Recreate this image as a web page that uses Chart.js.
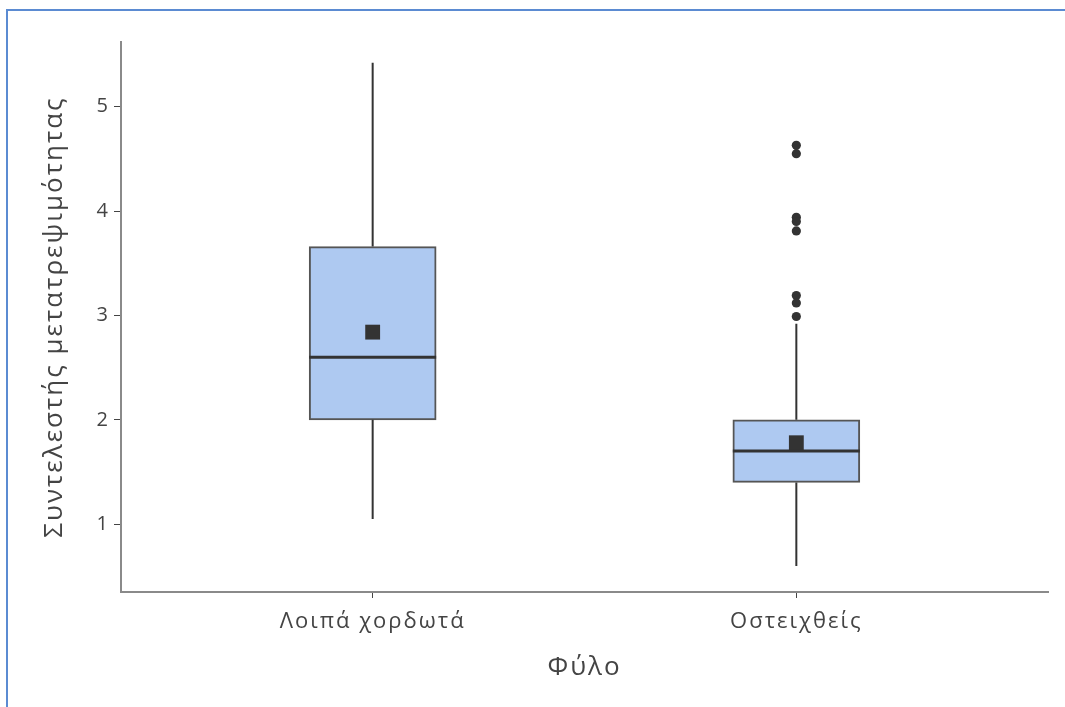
<!DOCTYPE html>
<html>
<head>
<meta charset="utf-8">
<script src="https://cdn.jsdelivr.net/npm/chart.js@4.4.1/dist/chart.umd.min.js"></script>
<style>
  html, body { margin: 0; padding: 0; background: #fff; }
  #wrap { position: relative; width: 1065px; height: 707px; overflow: hidden; }
  #frame { position: absolute; left: 6px; top: 9px; right: 0; bottom: 0;
           border-left: 2px solid #5b8bd2; border-top: 2px solid #5b8bd2; }
  canvas { position: absolute; left: 0; top: 0; }
</style>
</head>
<body>
<div id="wrap">
  <div id="frame"></div>
  <canvas id="box" width="1065" height="707"></canvas>
</div>
<script>
// Κατηγορίες και στατιστικά (διαβασμένα από την εικόνα)
const categories = ['Λοιπά χορδωτά', 'Οστειχθείς'];
const q1 = [2.0, 1.4];
const q3 = [3.66, 2.0];
const medians = [2.6, 1.7];
const means = [2.84, 1.78];
const whiskerLow = [1.05, 0.6];
const whiskerHigh = [5.42, 2.92];
const outliers = [[], [4.63, 4.55, 3.94, 3.9, 3.81, 3.19, 3.12, 2.99]];
const yTicks = [1, 2, 3, 4, 5];

const font = "'Segoe UI', 'Open Sans', 'Noto Sans', sans-serif";

// the original text is widely spaced
const spacing = {
    id: 'spacing',
    beforeDraw(chart) { chart.ctx.letterSpacing = '2px'; }
};

// whiskers + median through the scales
const boxExtras = {
    id: 'boxExtras',
    afterDatasetsDraw(chart) {
        const ctx = chart.ctx;
        const x = chart.scales.x, y = chart.scales.y;
        const bars = chart.getDatasetMeta(0).data;
        ctx.save();
        ctx.strokeStyle = '#333';
        categories.forEach((c, i) => {
            const cx = x.getPixelForValue(i);
            ctx.lineWidth = 2;
            ctx.beginPath();
            ctx.moveTo(cx, y.getPixelForValue(q3[i]));
            ctx.lineTo(cx, y.getPixelForValue(whiskerHigh[i]));
            ctx.moveTo(cx, y.getPixelForValue(q1[i]));
            ctx.lineTo(cx, y.getPixelForValue(whiskerLow[i]));
            ctx.stroke();
            const half = bars[i].width / 2;
            ctx.lineWidth = 3;
            ctx.beginPath();
            const my = y.getPixelForValue(medians[i]);
            ctx.moveTo(cx - half, my);
            ctx.lineTo(cx + half, my);
            ctx.stroke();
        });
        ctx.restore();
    }
};

const ctx = document.getElementById('box').getContext('2d');
const chart = new Chart(ctx, {
    type: 'bar',
    data: {
        datasets: [
            {
                type: 'bar',
                data: categories.map((c, i) => ({ x: i, y: [q1[i], q3[i]] })),
                backgroundColor: '#aec9f1',
                borderColor: '#555',
                borderWidth: 2,
                borderSkipped: false,
                barThickness: 127,
                order: 3
            },
            {
                type: 'scatter',
                data: means.map((m, i) => ({ x: i, y: m })),
                pointStyle: 'rect',
                pointRadius: 10.5,
                backgroundColor: '#333',
                borderWidth: 0,
                order: 1
            },
            {
                type: 'scatter',
                data: outliers.flatMap((arr, i) => arr.map(v => ({ x: i, y: v }))),
                pointRadius: 4.6,
                backgroundColor: '#333',
                borderWidth: 0,
                order: 2
            }
        ]
    },
    options: {
        responsive: false,
        animation: false,
        layout: { padding: { left: 0, top: 42, right: 17, bottom: 0 } },
        plugins: { legend: { display: false }, tooltip: { enabled: false } },
        scales: {
            x: {
                type: 'linear',
                min: -0.594,
                max: 1.594,
                offset: false,
                afterBuildTicks: s => { s.ticks = categories.map((c, i) => ({ value: i })); },
                afterFit: s => { s.height = 115; },
                border: { display: true, color: '#8a8a8a', width: 2 },
                grid: { offset: false, drawOnChartArea: false, drawTicks: true, tickLength: 6, color: '#444' },
                ticks: {
                    callback: v => categories[v],
                    font: { family: font, size: 22 },
                    color: '#444',
                    padding: 11,
                    maxRotation: 0
                },
                title: {
                    display: true,
                    text: 'Φύλο',
                    font: { family: font, size: 26 },
                    color: '#444',
                    padding: { top: 0, bottom: 24 }
                }
            },
            y: {
                min: 0.35,
                max: 5.62,
                afterBuildTicks: s => { s.ticks = yTicks.map(v => ({ value: v })); },
                afterFit: s => { s.width = 121; },
                border: { display: true, color: '#8a8a8a', width: 2 },
                grid: { drawOnChartArea: false, drawTicks: true, tickLength: 7, color: '#444' },
                ticks: {
                    font: { family: font, size: 20 },
                    color: '#444',
                    padding: 4
                },
                title: {
                    display: true,
                    text: 'Συντελεστής μετατρεψιμότητας',
                    font: { family: font, size: 26 },
                    color: '#444',
                    padding: { top: 39, bottom: 0 }
                }
            }
        }
    },
    plugins: [spacing, boxExtras]
});
</script>
</body>
</html>
